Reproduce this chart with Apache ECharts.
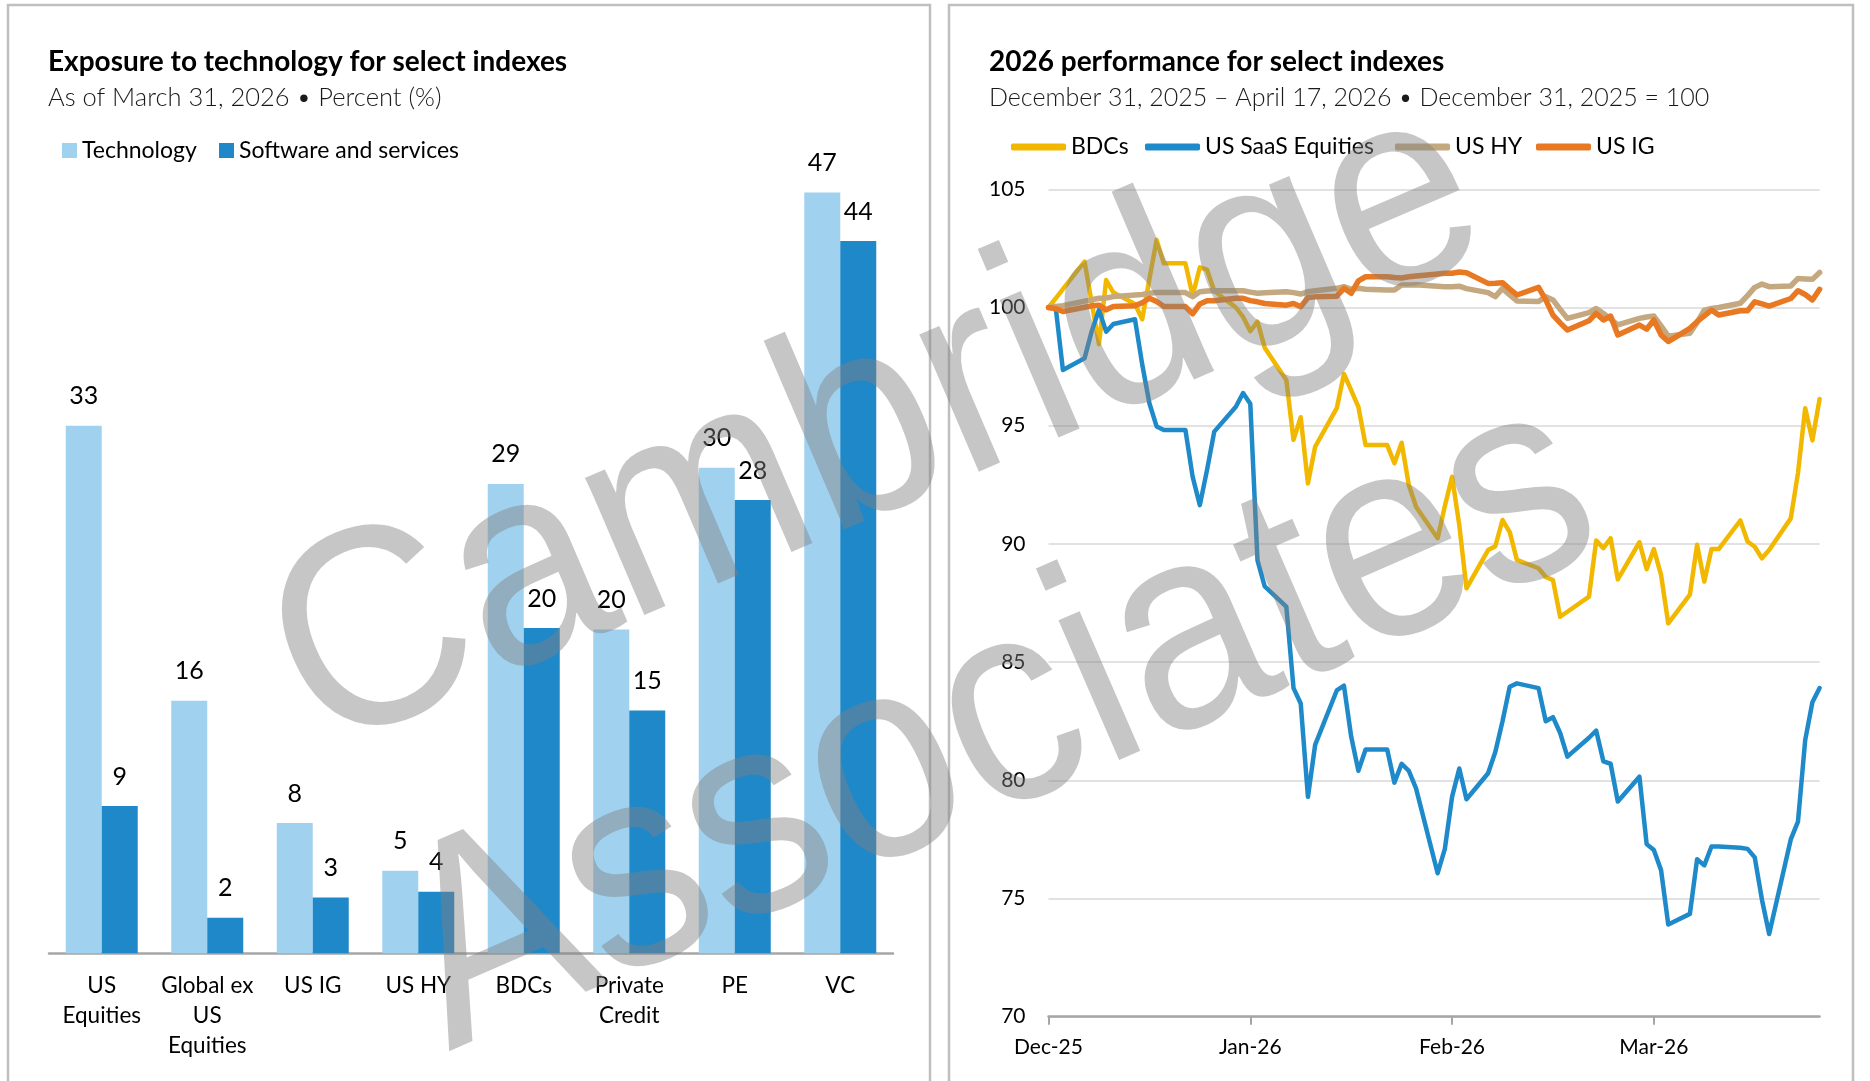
<!DOCTYPE html>
<html><head><meta charset="utf-8">
<script src="https://cdn.jsdelivr.net/npm/echarts@6/dist/echarts.min.js"></script>
<style>html,body{margin:0;padding:0;background:#fff}#c{width:1870px;height:1081px}</style>
</head><body><div id="c"></div>
<script>
// ---- Left chart data ----
const barCategories = ['US\nEquities', 'Global ex\nUS\nEquities', 'US IG', 'US HY', 'BDCs', 'Private\nCredit', 'PE', 'VC'];
const technology = [32.6, 15.6, 8.05, 5.1, 29.0, 20.0, 30.0, 47.0];
const software = [9.1, 2.2, 3.45, 3.8, 20.1, 15.0, 28.0, 44.0];

// ---- Right chart data ----
const perfDates = [
 '2025-12-31','2026-01-01','2026-01-02',
 '2026-01-05','2026-01-06','2026-01-07','2026-01-08','2026-01-09',
 '2026-01-12','2026-01-13','2026-01-14','2026-01-15','2026-01-16',
 '2026-01-19','2026-01-20','2026-01-21','2026-01-22','2026-01-23',
 '2026-01-26','2026-01-27','2026-01-28','2026-01-29','2026-01-30',
 '2026-02-02','2026-02-03','2026-02-04','2026-02-05','2026-02-06',
 '2026-02-09','2026-02-10','2026-02-11','2026-02-12','2026-02-13',
 '2026-02-16','2026-02-17','2026-02-18','2026-02-19','2026-02-20',
 '2026-02-23','2026-02-24','2026-02-25','2026-02-26','2026-02-27',
 '2026-03-02','2026-03-03','2026-03-04','2026-03-05','2026-03-06',
 '2026-03-09','2026-03-10','2026-03-11','2026-03-12','2026-03-13',
 '2026-03-16','2026-03-17','2026-03-18','2026-03-19','2026-03-20',
 '2026-03-23','2026-03-24','2026-03-25','2026-03-26','2026-03-27',
 '2026-03-30','2026-03-31','2026-04-01','2026-04-02','2026-04-03',
 '2026-04-06','2026-04-07','2026-04-08','2026-04-09','2026-04-10',
 '2026-04-13','2026-04-14','2026-04-15','2026-04-16','2026-04-17'
];
const bdcs = [
 100, 100.39, 100.78,
 101.94, 100.2, 98.45, 101.16, 100.63,
 100.15, 99.5, 101.2, 102.86, 101.87,
 101.87, 100.5, 101.7, 101.6, 100.7,
 100.0, 99.6, 99.0, 99.4, 98.3,
 96.93, 94.4, 95.36, 92.56, 94.11,
 95.74, 97.19, 96.5, 95.8, 94.18,
 94.18, 93.41, 94.28, 92.49, 91.57,
 90.24, 91.6, 92.84, 90.8, 88.12,
 89.74, 89.9, 91.01, 90.5, 89.32,
 88.97, 88.6, 88.47, 86.92, 87.13,
 87.77, 90.14, 89.82, 90.24, 88.5,
 90.07, 88.93, 89.78, 88.69, 86.64,
 87.85, 89.96, 88.41, 89.78, 89.78,
 90.99, 90.1, 89.88, 89.39, 89.74,
 91.08, 93.0, 95.74, 94.38, 96.13
];
const saas = [
 100, 100, 97.36,
 97.85, 99.0, 99.9, 98.98, 99.3,
 99.5, 97.6, 95.95, 94.97, 94.82,
 94.82, 92.84, 91.64, 93.13, 94.75,
 95.8, 96.38, 95.93, 89.3, 88.2,
 87.35, 83.9, 83.25, 79.3, 81.5,
 83.8, 84.0, 81.85, 80.4, 81.3,
 81.3, 79.9, 80.7, 80.4, 79.66,
 76.07, 77.1, 79.3, 80.5, 79.2,
 80.3, 81.2, 82.5, 83.96, 84.1,
 83.9, 82.5, 82.67, 82.0, 81.0,
 81.8, 82.1, 80.8, 80.7, 79.1,
 80.15, 77.3, 77.05, 76.2, 73.9,
 74.35, 76.66, 76.4, 77.2, 77.2,
 77.15, 77.1, 76.74, 74.95, 73.5,
 77.5, 78.25, 81.7, 83.3, 83.9
];
const usHY = [
 100, 100.04, 100.08,
 100.27, 100.33, 100.39, 100.4, 100.46,
 100.53, 100.55, 100.6, 100.63, 100.63,
 100.63, 100.46, 100.67, 100.7, 100.71,
 100.71, 100.71, 100.65, 100.6, 100.62,
 100.67, 100.63, 100.57, 100.67, 100.71,
 100.81, 100.88, 100.77, 100.81, 100.77,
 100.74, 100.74, 100.95, 100.95, 100.96,
 100.9, 100.88, 100.88, 100.9, 100.8,
 100.63, 100.46, 100.81, 100.53, 100.28,
 100.25, 100.46, 100.32, 99.92, 99.54,
 99.78, 99.96, 99.75, 99.51, 99.26,
 99.54, 99.6, 99.64, 99.22, 98.79,
 98.91, 99.37, 99.89, 99.96, 100.0,
 100.18, 100.5, 100.85, 100.99, 100.88,
 100.91, 101.23, 101.21, 101.19, 101.48
];
const usIG = [
 100, 99.95, 99.83,
 100.01, 100.07, 100.1, 99.9, 100.04,
 100.07, 100.2, 100.39, 100.25, 100.04,
 100.04, 99.73, 100.15, 100.29, 100.29,
 100.39, 100.39, 100.29, 100.24, 100.17,
 100.1, 100.17, 100.03, 100.42, 100.45,
 100.48, 100.81, 100.6, 101.13, 101.3,
 101.3, 101.27, 101.25, 101.3, 101.33,
 101.42, 101.45, 101.45, 101.5, 101.47,
 101.02, 101.03, 101.05, 100.78, 100.53,
 100.85, 100.32, 99.68, 99.35, 99.05,
 99.44, 99.75, 99.47, 99.64, 98.84,
 99.26, 99.08, 99.47, 98.84, 98.56,
 99.12, 99.4, 99.65, 99.89, 99.68,
 99.86, 99.86, 100.24, 100.15, 100.06,
 100.38, 100.71, 100.55, 100.32, 100.77
];
const perfTickDays = [0, 28, 56, 84];
const perfTickLabels = ['Dec-25', 'Jan-26', 'Feb-26', 'Mar-26'];

const FONT = 'Lato, "Noto Sans", sans-serif';
const base = Date.parse('2025-12-31');
const dayOf = d => Math.round((Date.parse(d) - base) / 864e5);
const pair = vals => perfDates.map((d, i) => [dayOf(d), vals[i]]);

const chart = echarts.init(document.getElementById('c'), null, {renderer: 'canvas'});

const lineSeries = (name, vals, color, width) => ({
  type: 'line', name, xAxisIndex: 1, yAxisIndex: 1, data: pair(vals),
  symbol: 'none', showSymbol: false,
  lineStyle: {color, width, cap: 'round', join: 'round'},
  itemStyle: {color}
});

const legendBase = {padding: 0, textStyle: {fontSize: 23, color: '#000', fontFamily: FONT}};

const option = {
  animation: false,
  backgroundColor: '#fff',
  textStyle: {fontFamily: FONT},
  title: [
    {text: 'Exposure to technology for select indexes', left: 48, top: 48, padding: 0,
     textStyle: {fontSize: 28, fontWeight: 'bold', color: '#000', fontFamily: FONT}},
    {text: 'As of March 31, 2026 \u2022 Percent (%)', left: 48, top: 85, padding: 0,
     textStyle: {fontSize: 25.5, fontWeight: 300, color: '#1a1a1a', fontFamily: FONT}},
    {text: '2026 performance for select indexes', left: 989, top: 48, padding: 0,
     textStyle: {fontSize: 28, fontWeight: 'bold', color: '#000', fontFamily: FONT}},
    {text: 'December 31, 2025 \u2013 April 17, 2026 \u2022 December 31, 2025 = 100', left: 989, top: 85, padding: 0,
     textStyle: {fontSize: 25, fontWeight: 300, color: '#1a1a1a', fontFamily: FONT}}
  ],
  legend: [
    Object.assign({data: ['Technology'], left: 62, top: 139, icon: 'rect', itemWidth: 15, itemHeight: 15}, legendBase),
    Object.assign({data: ['Software and services'], left: 219, top: 139, icon: 'rect', itemWidth: 15, itemHeight: 15}, legendBase),
    Object.assign({data: ['BDCs'], left: 1011, top: 135.5, icon: 'roundRect', itemWidth: 55, itemHeight: 7}, legendBase),
    Object.assign({data: ['US SaaS Equities'], left: 1145, top: 135.5, icon: 'roundRect', itemWidth: 55, itemHeight: 7}, legendBase),
    Object.assign({data: ['US HY'], left: 1395, top: 135.5, icon: 'roundRect', itemWidth: 55, itemHeight: 7}, legendBase),
    Object.assign({data: ['US IG'], left: 1536, top: 135.5, icon: 'roundRect', itemWidth: 55, itemHeight: 7}, legendBase)
  ],
  grid: [
    {left: 49, right: 977, top: 144, bottom: 127.7},
    {left: 1048.5, right: 50.4, top: 189.3, bottom: 64.3}
  ],
  xAxis: [
    {gridIndex: 0, type: 'category', data: barCategories,
     axisTick: {show: false},
     axisLine: {lineStyle: {color: '#A6A6A6', width: 2.5}},
     axisLabel: {interval: 0, color: '#000', fontSize: 22.5, lineHeight: 30, margin: 17, verticalAlign: 'top', fontFamily: FONT}},
    {gridIndex: 1, type: 'value', min: 0, max: 107, interval: 28,
     splitLine: {show: false},
     axisLine: {lineStyle: {color: '#A6A6A6', width: 2.5}},
     axisTick: {show: true, length: 8, customValues: perfTickDays, lineStyle: {color: '#A6A6A6', width: 2}},
     axisLabel: {customValues: perfTickDays, color: '#000', fontSize: 21, margin: 20, fontFamily: FONT,
       formatter: v => { const i = perfTickDays.indexOf(v); return i >= 0 ? perfTickLabels[i] : ''; }}}
  ],
  yAxis: [
    {gridIndex: 0, type: 'value', min: 0, max: 50, show: false},
    {gridIndex: 1, type: 'value', min: 70, max: 105, interval: 5,
     axisLine: {show: false}, axisTick: {show: false},
     splitLine: {lineStyle: {color: '#D9D9D9', width: 1.5}},
     axisLabel: {color: '#000', fontSize: 21, margin: 23, fontFamily: FONT}}
  ],
  series: [
    {type: 'bar', name: 'Technology', xAxisIndex: 0, yAxisIndex: 0, data: technology,
     barWidth: 36, barGap: '0%', itemStyle: {color: '#A0D2F0'},
     label: {show: true, position: 'top', distance: 17, fontSize: 25, color: '#000', fontFamily: FONT,
       formatter: p => Math.round(p.value)}},
    {type: 'bar', name: 'Software and services', xAxisIndex: 0, yAxisIndex: 0, data: software,
     barWidth: 36, barGap: '0%', itemStyle: {color: '#1F88C9'},
     label: {show: true, position: 'top', distance: 17, fontSize: 25, color: '#000', fontFamily: FONT,
       formatter: p => Math.round(p.value)}},
    lineSeries('BDCs', bdcs, '#F2B800', 4.5),
    lineSeries('US SaaS Equities', saas, '#1F8AC9', 4.5),
    lineSeries('US HY', usHY, '#C4A87F', 5.5),
    lineSeries('US IG', usIG, '#E87822', 5.5)
  ],
  graphic: [
    {type: 'rect', z: 1, shape: {x: 8, y: 5, width: 922, height: 1100},
     style: {fill: 'none', stroke: '#BFBFBF', lineWidth: 2.5}},
    {type: 'rect', z: 1, shape: {x: 949, y: 5, width: 904, height: 1100},
     style: {fill: 'none', stroke: '#BFBFBF', lineWidth: 2.5}},
    {type: 'text', z: 100, x: 878, y: 430, rotation: 0.405, scaleY: 1.08,
     style: {text: 'Cambridge', fontSize: 262, fontFamily: '"Liberation Sans", Arial, sans-serif',
       fill: 'rgba(128,128,128,0.45)', align: 'center', verticalAlign: 'middle'}},
    {type: 'text', z: 100, x: 998, y: 726, rotation: 0.41, scaleY: 1.1,
     style: {text: 'Associates', fontSize: 262, fontFamily: '"Liberation Sans", Arial, sans-serif',
       fill: 'rgba(128,128,128,0.45)', align: 'center', verticalAlign: 'middle'}}
  ]
};
chart.setOption(option);
</script>
</body></html>
